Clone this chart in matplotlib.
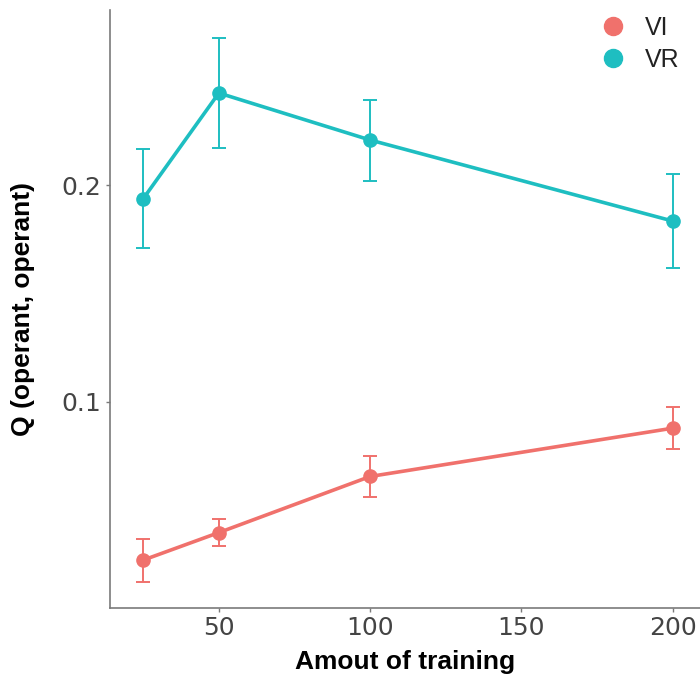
import matplotlib
matplotlib.use("Agg")
import matplotlib.pyplot as plt
from matplotlib.lines import Line2D

training = [25, 50, 100, 200]
groups = ["VI", "VR"]
vi_mean = [0.0269, 0.0396, 0.0655, 0.0878]
vi_se = [0.0099, 0.0063, 0.0096, 0.0096]
vr_mean = [0.1937, 0.2425, 0.2208, 0.1834]
vr_se = [0.0228, 0.0256, 0.0187, 0.0217]
x_ticks = [50, 100, 150, 200]
y_ticks = [0.1, 0.2]

colors = {"VI": "#F0716C", "VR": "#1EBEC1"}
series = {"VI": (vi_mean, vi_se), "VR": (vr_mean, vr_se)}

fig = plt.figure(figsize=(7.0, 6.79), dpi=100)
ax = fig.add_axes([0.157, 0.1046, 0.843, 0.8806])

for g in groups:
    m, se = series[g]
    ax.errorbar(training, m, yerr=se, color=colors[g], lw=2.6, elinewidth=1.4,
                capsize=5, capthick=1.4, marker="o", markersize=9.5, zorder=3)

ax.set_xlim(14, 209)
ax.set_ylim(0.0048, 0.2808)
ax.set_xticks(x_ticks)
ax.set_yticks(y_ticks)
ax.set_xticklabels([str(v) for v in x_ticks])
ax.set_yticklabels([f"{v:.1f}" for v in y_ticks])

for side in ("top", "right"):
    ax.spines[side].set_visible(False)
for side in ("left", "bottom"):
    ax.spines[side].set_color("#7a7a7a")
    ax.spines[side].set_linewidth(1.2)

ax.tick_params(axis="both", colors="#7a7a7a", length=3, width=1,
               labelsize=18, labelcolor="#444444", pad=3)

title_font = dict(family="Liberation Sans", fontsize=19, fontweight="bold")
ax.set_xlabel("Amout of training", labelpad=7, **title_font)
ax.set_ylabel("Q (operant, operant)", labelpad=19, **title_font)

handles = [Line2D([], [], ls="none", marker="o", markersize=13, color=colors[g])
           for g in groups]
ax.legend(handles, groups, loc="upper right", bbox_to_anchor=(1.003, 1.028),
          frameon=False, prop={"family": "Liberation Sans", "size": 18},
          handletextpad=0.75, labelspacing=0.32, handlelength=1.0,
          labelcolor="#222222")

fig.savefig("out.png", dpi=100)
